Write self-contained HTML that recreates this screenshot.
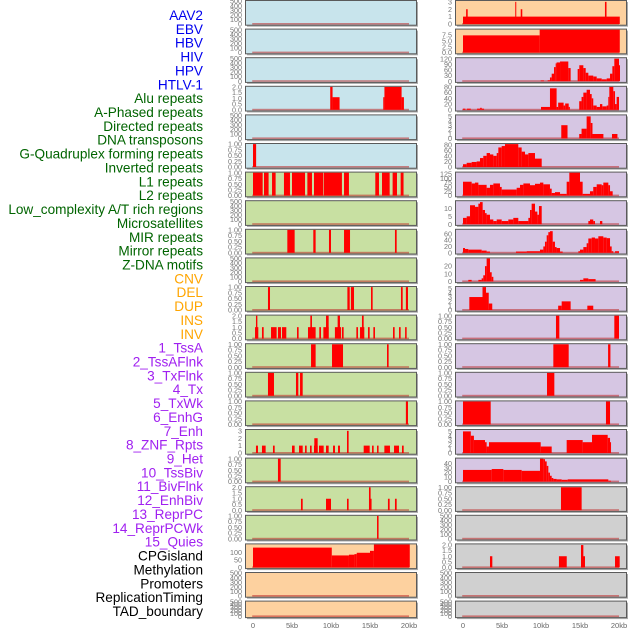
<!DOCTYPE html>
<html><head><meta charset="utf-8"><style>
body{margin:0;background:#fff;width:630px;height:630px;overflow:hidden}
svg{display:block}
text{font-family:"Liberation Sans",sans-serif}
</style></head><body>
<svg id="chart" width="630" height="630" viewBox="0 0 630 630" xmlns="http://www.w3.org/2000/svg"></svg>
<script>
const trackLabels = ["AAV2","EBV","HBV","HIV","HPV","HTLV-1","Alu repeats","A-Phased repeats","Directed repeats","DNA transposons","G-Quadruplex forming repeats","Inverted repeats","L1 repeats","L2 repeats","Low_complexity A/T rich regions","Microsatellites","MIR repeats","Mirror repeats","Z-DNA motifs","CNV","DEL","DUP","INS","INV","1_TssA","2_TssAFlnk","3_TxFlnk","4_Tx","5_TxWk","6_EnhG","7_Enh","8_ZNF_Rpts","9_Het","10_TssBiv","11_BivFlnk","12_EnhBiv","13_ReprPC","14_ReprPCWk","15_Quies","CPGisland","Methylation","Promoters","ReplicationTiming","TAD_boundary"];
const labelColors = [6,"#0000ee",13,"#006400",5,"#ffa500",15,"#a020f0",5,"#000000"];
const xTicks = [0,5,10,15,20];
const xTickLabels = ["0","5kb","10kb","15kb","20kb"];
const E = [0,100,200,300,400,500];
const leftBg = ["b","b","b","b","b","b","g","g","g","g","g","g","g","g","g","g","g","g","g","o","o","o"];
const rightBg = ["o","o","p","p","p","p","p","p","p","p","p","p","p","p","p","p","p","g2","g2","g2","g2","g2"];
const leftTicks = [E,E,E,[0,0.5,1,1.5,2],E,[0,0.25,0.5,0.75,1],[0,0.25,0.5,0.75,1],E,[0,0.25,0.5,0.75,1],E,[0,0.25,0.5,0.75,1],[0,0.5,1,1.5,2],[0,0.25,0.5,0.75,1],[0,0.25,0.5,0.75,1],[0,0.25,0.5,0.75,1],[0,1,2,3],[0,0.25,0.5,0.75,1],[0,0.5,1,1.5,2],[0,0.25,0.5,0.75,1],[0,50,100],E,E];
const leftYmax = [500,500,500,2,500,1,1,500,1,500,1,2,1,1,1,3.1,1,2,1,155,500,500];
const rightTicks = [[0,1,2,3],[0,2.5,5,7.5],[0,30,60,90,120],[0,20,40,60,80],[0,1,2,3,4,5],[0,20,40,60,80],[0,25,50,75,100,125],[0,5,10],[0,20,40,60],[0,10,20],[0,1,2,3,4,5],[0,0.25,0.5,0.75,1],[0,0.25,0.5,0.75,1],[0,0.25,0.5,0.75,1],[0,0.25,0.5,0.75,1],[0,1,2,3,4,5],[0,10,20,30,40],[0,0.25,0.5,0.75,1],E,[0,0.5,1,1.5,2],E,E];
const rightYmax = [3.1,9.7,122,80,5.2,82,132,14.5,72,30,5.3,1,1,1,1,5.3,51,1,500,2.05,500,500];
const leftSegments = [
 [],[],[],
 [[9.9,10.2,2],[10.2,11.1,1.1],[16.7,16.85,1.1],[16.85,19.05,2],[19.05,19.35,1.1]],
 [],
 [[0,0.4,1]],
 [[0,1.24,1],[1.41,2.0,1],[2.44,2.9,1],[3.97,4.74,1],[5.0,6.67,1],[6.97,7.56,1],[7.82,9.02,1],[9.1,11.4,1],[11.67,12.3,1],[15.68,16.15,1],[16.54,17.52,1],[17.9,18.46,1],[18.93,19.3,1]],
 [],
 [[4.4,5.34,1],[7.73,8.03,1],[9.74,10.0,1],[11.67,12.44,1],[18.2,18.42,1]],
 [],
 [[1.92,2.18,1],[12.1,12.4,1],[12.55,12.95,1],[15.13,15.34,1],[18.97,19.19,1],[19.6,19.87,1]],
 [[0.26,0.68,1],[0.38,0.56,2],[1.15,1.37,1],[2.31,3.03,1],[3.2,3.59,1],[3.72,4.27,1],[5.64,5.85,1],[7.05,8.03,1],[7.35,7.56,2],[8.5,8.72,1],[9.02,9.7,1],[9.36,9.7,2],[10.5,11.28,1],[10.85,11.15,2],[11.4,11.62,1],[13.25,13.46,1],[13.72,14.27,1],[13.97,14.19,2],[14.74,14.96,1],[15.43,15.64,1],[17.95,18.16,1],[18.72,18.93,1],[19.5,19.7,1]],
 [[7.44,8.03,1],[10.13,11.54,1],[17.18,17.39,1]],
 [[1.92,2.69,1],[5.51,5.81,1],[6.03,6.37,1]],
 [[19.6,19.87,1]],
 [[0.38,0.64,1],[1.15,1.62,1],[2.56,2.78,1],[5.0,5.34,1],[5.9,6.37,1],[6.67,6.88,1],[7.31,7.52,1],[7.82,8.29,1],[7.86,8.29,2],[8.46,9.06,1],[9.36,9.7,1],[10.26,10.51,1],[10.9,11.15,1],[12.05,12.26,3],[14.19,14.96,1],[15.26,15.47,1],[15.9,16.1,1],[16.84,17.56,1],[18.08,18.72,1],[19.1,19.32,1]],
 [[3.2,3.55,1]],
 [[6.15,6.37,1],[9.36,10.0,1],[12.05,12.26,1],[14.87,15.2,1],[14.87,15.08,2],[17.3,17.52,1],[18.2,18.42,1]],
 [[15.9,16.1,1]],
 [[0,10.1,134],[10.1,12.3,81],[12.3,13.0,86],[13.0,13.3,90],[13.3,15.0,99],[15.0,15.5,112],[15.5,20.1,155]],
 [],[]
];
const rightSegments = [
 [[0,20.1,1],[0.4,0.6,2],[6.7,6.8,3],[7.4,7.6,2],[18.2,18.4,3]],
 [[0,9.83,7.3],[9.83,20.1,9.7]],
 [[9.96,10.38,4],[10.85,11.15,5],[11.15,11.37,20],[11.37,11.67,40],[11.67,11.88,75],[11.88,12.0,95],[12.0,12.44,100],[12.44,13.5,105],[13.5,13.8,70],[14.7,14.91,65],[14.91,15.43,85],[15.43,15.73,70],[15.73,16.07,45],[16.07,16.7,30],[16.7,17.14,25],[17.14,17.78,15],[17.78,18.42,10],[18.42,18.85,15],[18.85,19.15,40],[19.15,19.4,80],[19.4,20.0,120],[20.0,20.1,85]],
 [[0,0.3,4],[0.5,1.0,4],[1.8,2.2,4],[2.2,2.4,7],[2.4,2.7,4],[10.0,11.15,10],[11.15,12.0,75],[12.0,12.2,10],[12.2,12.9,25],[12.9,13.1,15],[13.1,13.55,22],[13.55,13.7,10],[14.9,15.2,30],[15.2,15.43,45],[15.43,15.85,60],[15.85,16.28,70],[16.28,16.5,55],[16.5,16.7,40],[16.7,17.14,15],[17.14,17.56,10],[17.56,17.86,20],[17.86,18.42,12],[18.42,18.63,15],[18.63,18.76,45],[18.76,19.27,80],[19.27,19.49,65],[19.49,19.7,20],[19.7,20.0,45]],
 [[12.6,13.4,3],[14.9,15.2,1],[15.2,15.85,2.2],[15.85,16.37,5],[16.37,16.6,3.5],[16.6,18.0,1],[19.1,19.8,1]],
 [[0,0.47,10],[0.47,1.11,15],[1.11,1.75,18],[1.75,2.18,20],[2.18,2.6,32],[2.6,3.03,40],[3.03,3.46,50],[3.46,3.89,45],[3.89,4.32,40],[4.32,4.53,50],[4.53,4.96,70],[4.96,5.38,75],[5.38,7.09,82],[7.09,7.52,70],[7.52,7.95,55],[7.95,8.38,45],[8.38,9.23,50],[9.23,10.09,30]],
 [[0,1.11,80],[1.11,1.54,70],[1.54,1.97,75],[1.97,3.03,62],[3.03,3.46,45],[3.46,3.89,62],[3.89,4.74,70],[4.74,4.96,50],[4.96,6.88,35],[6.88,7.31,45],[7.31,7.74,62],[7.74,8.59,70],[8.59,9.23,60],[9.23,9.87,68],[9.87,10.3,75],[10.3,11.15,65],[11.15,11.37,40],[11.37,11.79,15],[11.79,12.44,20],[12.44,13.29,10],[13.29,13.63,80],[13.63,15.0,132],[15.0,15.34,80],[15.34,16.28,10],[16.28,16.7,25],[16.7,17.14,50],[17.14,17.78,65],[17.78,17.99,60],[17.99,18.63,75],[18.63,18.85,60],[18.85,19.19,25]],
 [[0,0.47,4],[0.47,0.9,5],[0.9,1.54,12],[1.54,1.97,11],[1.97,2.18,13],[2.18,2.52,14],[2.52,2.82,9],[2.82,3.03,7],[3.03,3.46,6],[3.46,3.89,3],[3.89,4.32,2],[4.32,4.96,3],[4.96,5.81,2],[5.81,6.45,3],[6.45,7.09,4],[7.09,8.38,2],[8.38,8.59,4],[8.59,8.8,9],[8.8,9.23,13],[9.23,9.53,8],[9.53,9.74,6],[9.74,10.09,11.5],[16.07,16.28,2],[16.28,16.7,3],[16.7,16.92,2],[17.56,17.86,2]],
 [[0,0.26,15],[0.26,0.68,12],[0.68,2.39,10],[2.39,3.03,7],[3.03,3.46,4],[6.79,8.16,4],[8.16,9.87,5],[9.87,10.3,10],[10.3,10.51,20],[10.51,10.73,35],[10.73,10.94,55],[10.94,11.15,65],[11.15,11.5,68],[11.5,11.79,35],[11.79,12.0,18],[12.0,12.44,15],[12.44,12.78,4],[14.79,15.0,5],[15.0,15.43,10],[15.43,15.85,18],[15.85,16.07,30],[16.07,16.5,45],[16.5,16.92,48],[16.92,17.35,45],[17.35,17.99,52],[17.99,18.42,48],[18.42,18.85,46],[18.85,19.06,20],[19.06,19.27,5],[19.49,20.0,5]],
 [[0.68,1.11,2],[1.97,2.39,2],[2.39,2.6,4],[2.6,2.82,8],[2.82,3.03,20],[3.03,3.46,30],[3.46,3.68,12],[3.68,3.89,6],[15.0,15.43,2],[15.43,16.07,4],[16.07,17.0,3]],
 [[0.81,2.5,3],[2.5,2.95,5.3],[2.95,3.3,4],[3.3,3.75,1.5],[12.2,12.65,1],[12.65,13.8,2],[15.94,16.7,1]],
 [[11.92,12.35,1],[19.4,20.0,1]],
 [[11.58,13.55,1],[18.6,18.9,1]],
 [[10.77,11.71,1]],
 [[0,3.55,1],[18.33,18.85,1]],
 [[0,1.0,5],[1.0,1.4,4],[1.4,2.82,3],[2.82,3.03,2.5],[3.03,3.33,1.5],[3.33,9.96,2.5],[9.96,11.37,1.5],[13.29,15.34,3],[15.34,16.54,2.5],[16.54,18.55,4.2],[18.55,18.85,3.5],[18.85,18.97,2.5]],
 [[0,3.68,26],[3.68,5.17,28],[5.17,7.52,26],[7.52,9.87,24],[9.87,10.3,51],[10.3,10.51,50],[10.51,10.73,45],[10.73,10.94,35],[10.94,11.15,20],[11.15,11.37,13],[11.37,11.58,8],[11.58,12.0,6],[12.0,12.65,5],[12.65,13.42,4],[13.42,15.0,5],[15.0,18.63,5],[18.63,18.97,2]],
 [[12.56,15.21,1]],
 [],
 [[3.46,3.76,1],[12.3,13.3,1],[15.13,15.64,1],[15.13,15.43,2],[19.49,20.09,1]],
 [],[]
];
const bgColors = {b:"#c8e4ec",g:"#c8e0a2",o:"#fdd19f",p:"#d6c6e3",g2:"#d0d0d0"};
const NS = "http://www.w3.org/2000/svg";
const svg = document.getElementById("chart");
function mk(tag, attrs, parent){const e=document.createElementNS(NS,tag);for(const k in attrs)e.setAttribute(k,attrs[k]);(parent||svg).appendChild(e);return e;}
const rowTop = i => 0.5 + i*28.6;
const rowH = i => i===21 ? 16.5 : 24.7;
const xScale = (kb, col) => (col===0?253:463) + kb*7.8;
function yScale(v, i, ymax){const b=rowTop(i)+rowH(i)-1.2;const h=rowH(i)-1.8;return Math.max(rowTop(i)+0.3, b - Math.min(v,ymax)/ymax*h);}

let ci=0, cnt=labelColors[0], color=labelColors[1];
trackLabels.forEach((t,k)=>{
  if(k>=cnt){ci+=2;cnt+=labelColors[ci];color=labelColors[ci+1];}
  const el=mk("text",{x:203,y:20+k*13.86,"text-anchor":"end","font-size":"13.6",fill:color});
  
  
  el.textContent=t;
});

function drawColumn(col, bgs, ticks, ymaxs, segs){
  const x0 = col===0?245.5:455.5;
  for(let i=0;i<22;i++){
    const g=mk("g",{});
    
    
    const top=rowTop(i), h=rowH(i);
    mk("rect",{x:x0+1.5,y:top+1.5,width:171,height:h,fill:"#aaa"},g);
    mk("rect",{x:x0,y:top,width:171,height:h,fill:bgColors[bgs[i]],stroke:"#5a5a5a","stroke-width":1},g);
    const bl=mk("rect",{x:xScale(-0.1,col),y:top+h-2.2,width:xScale(20,col)-xScale(-0.1,col),height:1.6,fill:"rgba(190,40,40,0.55)"},g);
    
    
    segs[i].forEach(s=>{
      const xa=xScale(s[0],col), xb=xScale(s[1],col), y=yScale(s[2],i,ymaxs[i]);
      const r=mk("rect",{x:xa,y:y,width:Math.max(1,xb-xa),height:top+h-1.2-y,fill:"#ff0000"},g);
      
      
    });
    ticks[i].forEach(v=>{
      const t=mk("text",{x:x0-3.5,y:yScale(v,i,ymaxs[i])+2.6,"text-anchor":"end","font-size":"7.2",fill:"#777"},g);
      
      
      t.textContent = (ymaxs[i]<=2.1 && ticks[i].length===5 && ticks[i][1]===0.25) ? v.toFixed(2) : (ticks[i].some(u=>u%1!==0) ? v.toFixed(1) : String(v));
    });
  }
  xTicks.forEach((v,k)=>{
    const t=mk("text",{x:xScale(v,col),y:628,"text-anchor":"middle","font-size":"7.5",fill:"#666"});
    
    
    t.textContent=xTickLabels[k];
  });
}
drawColumn(0,leftBg,leftTicks,leftYmax,leftSegments);
drawColumn(1,rightBg,rightTicks,rightYmax,rightSegments);
</script>
</body></html>
